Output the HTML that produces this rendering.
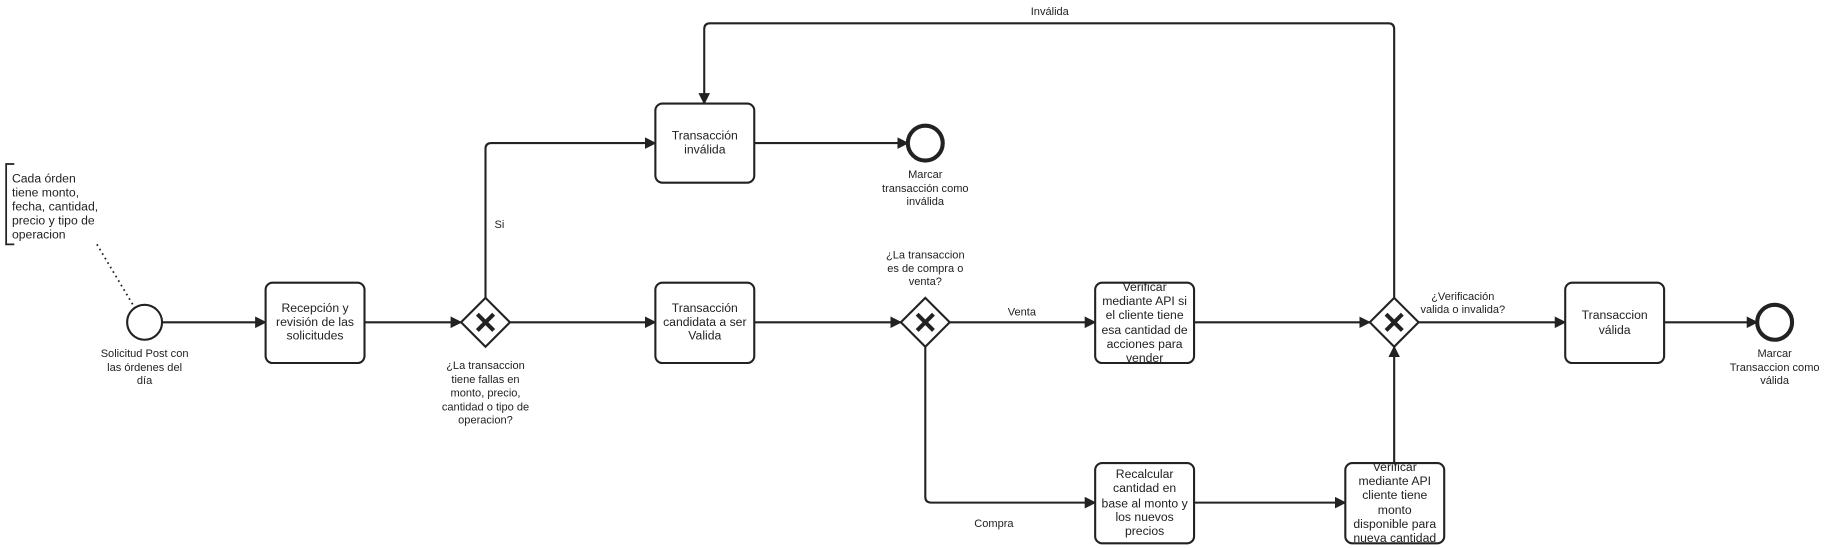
<!DOCTYPE html>
<html><head><meta charset="utf-8"><style>
html,body{margin:0;padding:0;background:#fff;width:1825px;height:548px;overflow:hidden}
svg{display:block}
text{font-family:"Liberation Sans",sans-serif;fill:#222}
</style></head><body>
<svg width="1825" height="548" viewBox="0 0 1568 471" xmlns="http://www.w3.org/2000/svg">
<defs>
<marker id="a" markerWidth="10" markerHeight="10" refX="9" refY="5" orient="auto" markerUnits="userSpaceOnUse">
<path d="M0,0 L10,5 L0,10 z" fill="#222"/>
</marker>
</defs>
<g stroke="#222" stroke-width="1.8" fill="none">
<!-- annotation -->
<path d="M12,141 H5 V210 H12" stroke-width="1.5"/>
<path d="M83,210 L114,262" stroke-dasharray="1.5,3" stroke-width="1.5"/>
<!-- flows -->
<path d="M139,277 H228" marker-end="url(#a)"/>
<path d="M313,277 H396" marker-end="url(#a)"/>
<path d="M438,277 H563" marker-end="url(#a)"/>
<path d="M417,256 V128 Q417,123 422,123 H563" marker-end="url(#a)"/>
<path d="M648,123 H780" marker-end="url(#a)"/>
<path d="M648,277 H774" marker-end="url(#a)"/>
<path d="M816,277 H941" marker-end="url(#a)"/>
<path d="M795,298 V427 Q795,432 800,432 H941" marker-end="url(#a)"/>
<path d="M1026,277 H1177" marker-end="url(#a)"/>
<path d="M1026,432 H1156" marker-end="url(#a)"/>
<path d="M1198,398 V298" marker-end="url(#a)"/>
<path d="M1219,277 H1345" marker-end="url(#a)"/>
<path d="M1430,277 H1510" marker-end="url(#a)"/>
<path d="M1198,256 V25 Q1198,20 1193,20 H610 Q605,20 605,25 V89" marker-end="url(#a)"/>
<!-- events -->
<circle cx="124" cy="277" r="15" fill="#fff"/>
<circle cx="795" cy="123" r="15" fill="#fff" stroke-width="3.5"/>
<circle cx="1525" cy="277" r="15" fill="#fff" stroke-width="3.5"/>
<!-- tasks -->
<rect x="228" y="243" width="85" height="69" rx="6" fill="#fff"/>
<rect x="563" y="89" width="85" height="68" rx="6" fill="#fff"/>
<rect x="563" y="243" width="85" height="69" rx="6" fill="#fff"/>
<rect x="941" y="243" width="85" height="69" rx="6" fill="#fff"/>
<rect x="941" y="398" width="85" height="69" rx="6" fill="#fff"/>
<rect x="1156" y="398" width="85" height="69" rx="6" fill="#fff"/>
<rect x="1345" y="243" width="85" height="69" rx="6" fill="#fff"/>
<!-- gateways -->
<path d="M417,256 L438,277 L417,298 L396,277 z" fill="#fff"/>
<path d="M795,256 L816,277 L795,298 L774,277 z" fill="#fff"/>
<path d="M1198,256 L1219,277 L1198,298 L1177,277 z" fill="#fff"/>
<g stroke-width="3.5">
<path d="M410,270 L424,284 M424,270 L410,284"/>
<path d="M788,270 L802,284 M802,270 L788,284"/>
<path d="M1191,270 L1205,284 M1205,270 L1191,284"/>
</g>
</g>
<g font-size="10.5" text-anchor="middle">
<text x="270.5" y="268">Recepción y</text><text x="270.5" y="280">revisión de las</text><text x="270.5" y="292">solicitudes</text>
<text x="605.5" y="120">Transacción</text><text x="605.5" y="132">inválida</text>
<text x="605.5" y="268">Transacción</text><text x="605.5" y="280">candidata a ser</text><text x="605.5" y="292">Valida</text>
<text x="983.5" y="250">Verificar</text><text x="983.5" y="262">mediante API si</text><text x="983.5" y="274">el cliente tiene</text><text x="983.5" y="287">esa cantidad de</text><text x="983.5" y="299">acciones para</text><text x="983.5" y="311">vender</text>
<text x="983.5" y="411">Recalcular</text><text x="983.5" y="423">cantidad en</text><text x="983.5" y="436">base al monto y</text><text x="983.5" y="448">los nuevos</text><text x="983.5" y="460">precios</text>
<text x="1198.5" y="405">Verificar</text><text x="1198.5" y="417">mediante API</text><text x="1198.5" y="429">cliente tiene</text><text x="1198.5" y="442">monto</text><text x="1198.5" y="454">disponible para</text><text x="1198.5" y="466">nueva cantidad</text>
<text x="1387.5" y="274">Transaccion</text><text x="1387.5" y="287">válida</text>
</g>
<g font-size="9.5" text-anchor="middle">
<text x="124" y="307">Solicitud Post con</text><text x="124" y="319">las órdenes del</text><text x="124" y="330">día</text>
<text x="417" y="317">¿La transaccion</text><text x="417" y="329">tiene fallas en</text><text x="417" y="341">monto, precio,</text><text x="417" y="353">cantidad o tipo de</text><text x="417" y="364">operacion?</text>
<text x="795" y="153">Marcar</text><text x="795" y="165">transacción como</text><text x="795" y="176">inválida</text>
<text x="795" y="222">¿La transaccion</text><text x="795" y="234">es de compra o</text><text x="795" y="245">venta?</text>
<text x="1257" y="258">¿Verificación</text><text x="1257" y="269">valida o invalida?</text>
<text x="1525" y="307">Marcar</text><text x="1525" y="319">Transaccion como</text><text x="1525" y="330">válida</text>
<text x="902" y="13">Inválida</text>
<text x="429" y="196">Si</text>
<text x="878" y="271">Venta</text>
<text x="854" y="453">Compra</text>
</g>
<g font-size="10.5">
<text x="10" y="157">Cada órden</text><text x="10" y="169">tiene monto,</text><text x="10" y="181">fecha, cantidad,</text><text x="10" y="193">precio y tipo de</text><text x="10" y="205">operacion</text>
</g>
</svg>
</body></html>
